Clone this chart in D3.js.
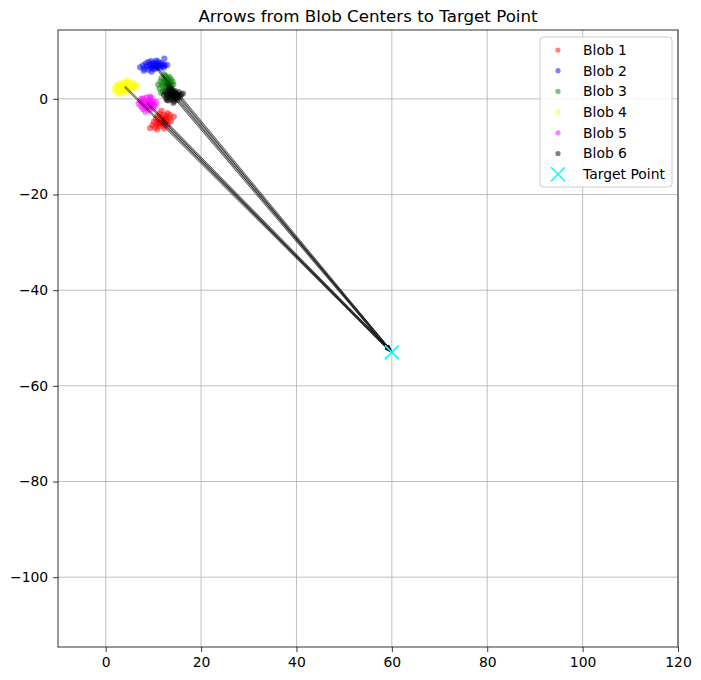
<!DOCTYPE html>
<html>
<head>
<meta charset="utf-8">
<script src="https://cdn.jsdelivr.net/npm/d3@7"></script>
<style>
  body { margin: 0; background: #fff; }
  svg { font-family: "DejaVu Sans", sans-serif; }
</style>
</head>
<body>
<div id="chart"></div>
<script>
// blob points (data units)
let blob1 = [[9.3,-6.1],[9.8,-5.5],[10.1,-4.8],[10.3,-6.0],[10.5,-4.2],[10.7,-5.3],[10.9,-3.6],[11.0,-4.7],[11.2,-5.8],[11.3,-3.1],[11.4,-4.3],[11.6,-5.1],[11.7,-2.5],[11.8,-3.8],[12.0,-4.6],[12.1,-5.6],[12.2,-3.3],[12.4,-4.1],[12.5,-5.0],[12.7,-3.6],[12.8,-4.5],[13.0,-3.0],[13.1,-5.3],[13.3,-4.0],[13.5,-3.4],[13.7,-4.6],[14.3,-3.7],[10.8,-6.4],[12.3,-6.2],[11.5,-4.9],[12.6,-4.3],[11.1,-5.2]];
let blob2 = [[7.2,6.6],[7.8,7.0],[8.1,6.3],[8.4,7.4],[8.6,6.8],[8.9,7.7],[9.0,6.1],[9.2,7.1],[9.4,6.6],[9.5,7.9],[9.7,7.3],[9.8,6.4],[10.0,7.0],[10.1,7.6],[10.2,6.2],[10.4,6.8],[10.5,7.4],[10.7,6.5],[10.8,7.1],[11.0,7.8],[11.1,6.7],[11.3,7.2],[11.5,6.4],[11.6,7.5],[11.8,6.9],[12.0,7.2],[12.2,6.6],[12.4,7.0],[12.9,7.1],[12.3,8.4],[8.0,5.9],[9.6,5.7],[10.6,8.0],[9.9,6.9],[10.9,6.9]];
let blob3 = [[11.0,3.0],[11.3,2.2],[11.5,3.6],[11.7,4.3],[11.9,2.8],[12.0,1.6],[12.1,3.3],[12.3,4.0],[12.4,2.5],[12.5,4.8],[12.6,3.0],[12.7,3.7],[12.8,2.1],[12.9,4.4],[13.0,3.2],[13.1,2.7],[13.2,3.9],[13.3,4.6],[13.4,2.3],[13.5,3.5],[13.7,4.1],[13.8,2.9],[14.0,3.6],[14.2,3.0],[11.6,1.3],[12.2,5.2],[13.6,1.8],[12.8,0.9],[12.6,3.5],[13.1,3.4]];
let blob4 = [[1.8,2.2],[2.1,1.6],[2.3,2.7],[2.5,3.1],[2.7,2.0],[2.9,1.3],[3.0,2.5],[3.2,3.3],[3.4,1.8],[3.5,2.9],[3.7,2.3],[3.8,1.2],[3.9,3.5],[4.0,2.7],[4.2,1.9],[4.3,3.0],[4.5,2.4],[4.6,1.5],[4.8,3.3],[4.9,2.1],[5.1,2.8],[5.3,3.6],[5.4,1.9],[5.6,2.6],[5.8,3.2],[6.0,2.4],[6.3,3.0],[6.5,2.7],[2.6,1.0],[4.4,3.8],[4.1,2.4],[3.3,2.6]];
let blob5 = [[6.9,-1.0],[7.2,-0.4],[7.4,-1.6],[7.6,-0.8],[7.8,-2.1],[7.9,0.1],[8.1,-1.3],[8.2,-0.5],[8.4,-1.9],[8.5,-0.9],[8.6,0.3],[8.7,-1.5],[8.9,-0.6],[9.0,-2.4],[9.1,-1.1],[9.2,-0.2],[9.4,-1.7],[9.5,-0.8],[9.6,0.2],[9.7,-1.3],[9.9,-2.0],[10.0,-0.5],[10.2,-1.1],[10.4,-1.6],[10.6,-0.7],[8.3,-2.7],[9.3,0.5],[7.5,0.0],[8.8,-1.0],[9.2,-1.4]];
let blob6 = [[12.2,0.8],[12.5,1.5],[12.7,0.2],[12.9,1.0],[13.1,-0.3],[13.2,1.7],[13.4,0.5],[13.5,1.2],[13.7,-0.1],[13.8,0.8],[13.9,1.9],[14.0,0.3],[14.1,1.4],[14.3,-0.4],[14.4,0.9],[14.5,1.6],[14.6,0.1],[14.8,1.1],[14.9,0.5],[15.0,-0.2],[15.2,0.8],[15.3,1.4],[15.5,0.4],[15.8,0.9],[16.2,1.1],[13.3,2.2],[14.2,-0.8],[12.8,-0.2],[14.2,0.7],[13.6,0.9]];

let blobNames = ["Blob 1", "Blob 2", "Blob 3", "Blob 4", "Blob 5", "Blob 6"];
let blobColors = ["red", "blue", "green", "yellow", "magenta", "black"];
let blobs = [blob1, blob2, blob3, blob4, blob5, blob6];
let target = [60, -53];

let xTicks = [0, 20, 40, 60, 80, 100, 120];
let yTicks = [0, -20, -40, -60, -80, -100];

let W = 701, H = 680;
let margin = { top: 30, right: 23, bottom: 33, left: 58 };

let svg = d3.select("#chart").append("svg")
    .attr("width", W)
    .attr("height", H);

let x = d3.scaleLinear().domain([-10, 120]).range([margin.left, W - margin.right]);
let y = d3.scaleLinear().domain([-114.6, 14.4]).range([H - margin.bottom, margin.top]);

let fmt = d => d < 0 ? "\u2212" + Math.abs(d) : "" + d;

// grid
svg.append("g").selectAll("line").data(xTicks).join("line")
    .attr("x1", d => x(d)).attr("x2", d => x(d))
    .attr("y1", margin.top).attr("y2", H - margin.bottom)
    .attr("stroke", "#b0b0b0").attr("stroke-width", 0.8);
svg.append("g").selectAll("line").data(yTicks).join("line")
    .attr("y1", d => y(d)).attr("y2", d => y(d))
    .attr("x1", margin.left).attr("x2", W - margin.right)
    .attr("stroke", "#b0b0b0").attr("stroke-width", 0.8);

// blob scatter
let plot = svg.append("g");
blobs.forEach(function(b, i) {
    plot.append("g").selectAll("circle").data(b).join("circle")
        .attr("cx", d => x(d[0]))
        .attr("cy", d => y(d[1]))
        .attr("r", 3.1)
        .attr("fill", blobColors[i])
        .attr("fill-opacity", 0.5);
});

// arrows from blob centers to the target
blobs.forEach(function(b) {
    let cx = d3.mean(b, d => d[0]), cy = d3.mean(b, d => d[1]);
    let x0 = x(cx), y0 = y(cy), x1 = x(target[0]), y1 = y(target[1]);
    let len = Math.hypot(x1 - x0, y1 - y0);
    let ux = (x1 - x0) / len, uy = (y1 - y0) / len;
    let px = -uy, py = ux;
    let hl = 7, hw = 2.3, sw = 0.8;
    let bx = x1 - ux * hl, by = y1 - uy * hl;
    let pts = [
        [x0 + px * sw, y0 + py * sw],
        [bx + px * sw, by + py * sw],
        [bx + px * hw, by + py * hw],
        [x1, y1],
        [bx - px * hw, by - py * hw],
        [bx - px * sw, by - py * sw],
        [x0 - px * sw, y0 - py * sw]
    ];
    plot.append("polygon")
        .attr("points", pts.map(p => p.join(",")).join(" "))
        .attr("fill", "black").attr("fill-opacity", 0.3)
        .attr("stroke", "black").attr("stroke-opacity", 0.7)
        .attr("stroke-width", 0.8)
        .attr("stroke-linejoin", "miter");
});

// target marker
let ms = 7;
plot.append("path")
    .attr("d", `M${x(target[0]) - ms},${y(target[1]) - ms}L${x(target[0]) + ms},${y(target[1]) + ms}M${x(target[0]) - ms},${y(target[1]) + ms}L${x(target[0]) + ms},${y(target[1]) - ms}`)
    .attr("stroke", "cyan").attr("stroke-width", 1.6);

// axes frame
svg.append("rect")
    .attr("x", margin.left).attr("y", margin.top)
    .attr("width", W - margin.left - margin.right)
    .attr("height", H - margin.top - margin.bottom)
    .attr("fill", "none").attr("stroke", "black").attr("stroke-width", 0.8);

let xAxis = svg.append("g")
    .attr("transform", `translate(0,${H - margin.bottom})`)
    .call(d3.axisBottom(x).tickValues(xTicks).tickFormat(fmt).tickSize(4.9).tickPadding(4.9));
let yAxis = svg.append("g")
    .attr("transform", `translate(${margin.left},0)`)
    .call(d3.axisLeft(y).tickValues(yTicks).tickFormat(fmt).tickSize(4.9).tickPadding(4.9));
[xAxis, yAxis].forEach(function(a) {
    a.select(".domain").remove();
    a.selectAll("text").attr("font-size", "13.9px").attr("font-family", "DejaVu Sans").attr("fill", "black");
    a.selectAll("line").attr("stroke", "black").attr("stroke-width", 0.8);
});

// title
svg.append("text")
    .attr("x", (margin.left + W - margin.right) / 2)
    .attr("y", margin.top - 8)
    .attr("text-anchor", "middle")
    .attr("font-size", "16.7px")
    .text("Arrows from Blob Centers to Target Point");

// legend
let lg = svg.append("g").attr("transform", "translate(540,37)");
lg.append("rect")
    .attr("width", 132).attr("height", 150).attr("rx", 3)
    .attr("fill", "white").attr("fill-opacity", 0.8)
    .attr("stroke", "#cccccc").attr("stroke-width", 1);
blobNames.forEach(function(name, i) {
    let row = lg.append("g").attr("transform", `translate(0,${13 + i * 20.7})`);
    row.append("circle").attr("cx", 18).attr("cy", 0).attr("r", 2.6)
        .attr("fill", blobColors[i]).attr("fill-opacity", 0.5);
    row.append("text").attr("x", 43).attr("y", 0).attr("dy", "0.35em")
        .attr("font-size", "13.9px").text(name);
});
let tr = lg.append("g").attr("transform", `translate(0,${13 + 6 * 20.7})`);
tr.append("path").attr("d", "M11,-7L25,7M11,7L25,-7")
    .attr("stroke", "cyan").attr("stroke-width", 1.6);
tr.append("text").attr("x", 43).attr("y", 0).attr("dy", "0.35em")
    .attr("font-size", "13.9px").text("Target Point");
</script>
</body>
</html>
